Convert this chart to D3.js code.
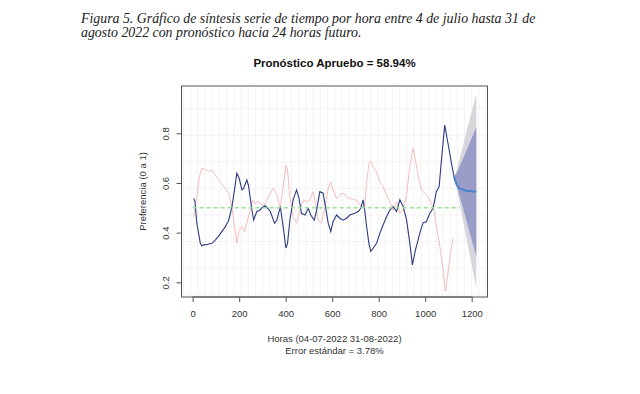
<!DOCTYPE html>
<html>
<head>
<meta charset="utf-8">
<script src="https://cdn.jsdelivr.net/npm/d3@7"></script>
<style>
  body { margin: 0; background: #fff; }
  svg { display: block; }
</style>
</head>
<body>
<div class="chart-div"></div>
<script>
// data
var blue_hours = [4,10,18,33,40,50,61,72,83,97,108,119,130,140,155,169,180,190,200,212,219,233,240,255,262,276,288,298,312,323,334,352,362,377,391,401,408,418,432,447,457,468,483,497,508,523,533,547,561,571,583,594,604,619,633,647,662,676,697,712,723,733,740,748,758,766,776,791,805,819,834,848,862,877,891,905,920,934,945,958,977,991,1005,1020,1034,1048,1060,1070,1084,1098,1113,1124];
var blue_vals = [.538,.525,.438,.357,.347,.352,.351,.355,.357,.37,.382,.396,.41,.423,.45,.505,.572,.639,.619,.572,.578,.612,.59,.491,.451,.485,.49,.50,.508,.498,.485,.438,.45,.505,.411,.338,.357,.45,.532,.572,.54,.478,.471,.498,.471,.45,.49,.565,.559,.505,.438,.404,.445,.471,.458,.45,.458,.471,.478,.485,.498,.532,.491,.424,.357,.324,.337,.357,.397,.431,.464,.491,.505,.485,.532,.505,.451,.357,.27,.33,.398,.44,.444,.478,.498,.565,.585,.693,.833,.76,.679,.625];

var pink_hours = [4,18,29,40,54,69,83,97,112,126,140,155,169,176,186,190,200,212,223,233,248,258,269,283,305,326,348,362,377,391,402,408,418,432,447,461,476,490,504,518,528,540,554,569,583,594,604,619,633,647,662,676,697,712,726,740,748,758,766,776,791,805,819,834,848,862,877,891,905,920,934,948,958,970,984,998,1012,1027,1038,1048,1063,1077,1087,1098,1113,1120];
var pink_vals = [.464,.545,.625,.659,.655,.645,.652,.632,.612,.592,.579,.559,.505,.45,.391,.357,.41,.424,.404,.438,.491,.532,.518,.525,.505,.545,.579,.552,.50,.599,.67,.652,.545,.464,.438,.49,.532,.525,.532,.565,.518,.45,.438,.505,.579,.605,.572,.538,.552,.559,.545,.538,.532,.525,.505,.512,.599,.679,.686,.666,.645,.605,.585,.552,.522,.491,.525,.478,.491,.552,.666,.74,.693,.625,.572,.558,.545,.518,.491,.431,.344,.25,.163,.237,.344,.377];

var fc_hours = [1124,1136,1148,1160,1172,1184,1196,1208,1220];
var fc_mean  = [.625,.592,.579,.574,.570,.568,.567,.566,.566];
var fc_hi80  = [.625,.64,.666,.693,.719,.745,.772,.798,.825];
var fc_lo80  = [.625,.589,.549,.508,.467,.426,.385,.344,.304];
var fc_hi95  = [.625,.653,.697,.741,.785,.829,.873,.917,.958];
var fc_lo95  = [.625,.577,.519,.461,.404,.346,.289,.231,.178];

var ref_level = 0.5,
    ref_span = [0, 1150];

var x_ticks = [0,200,400,600,800,1000,1200];
var y_ticks = [0.2,0.4,0.6,0.8];

var caption_lines = [
  "Figura 5. Gráfico de síntesis serie de tiempo por hora entre 4 de julio hasta 31 de",
  "agosto 2022 con pronóstico hacia 24 horas futuro."
];
var title_text = "Pronóstico Apruebo = 58.94%",
    xlab_lines = ["Horas (04-07-2022 31-08-2022)", "Error estándar = 3.78%"],
    ylab_text = "Preferencia (0 a 1)";

function draw_chart() {
  var W = 640, H = 394,
      left = 181.5, right = 487.5, top = 86, bottom = 297,
      tick_len = 5,
      sans = "'Liberation Sans', Arial, sans-serif";

  var svg = d3.select('.chart-div')
    .append('svg')
    .attr('width', W)
    .attr('height', H);

  var x = d3.scaleLinear().domain([-48, 1268]).range([left, right]);
  var y = d3.scaleLinear().domain([0.1408, 0.9905]).range([bottom, top]);

  // caption
  svg.append('g').selectAll('text')
    .data(caption_lines)
    .enter().append('text')
    .attr('x', 81)
    .attr('y', function(d, i) { return 23 + i*13.5; })
    .style('font-family', "'Liberation Serif', 'Times New Roman', serif")
    .style('font-style', 'italic')
    .style('font-size', '13.85px')
    .style('fill', '#222')
    .text(function(d) { return d; });

  // faint grid
  var grid = svg.append('g').attr('stroke', '#f0f0f3').attr('stroke-width', 0.8);
  grid.selectAll('.gx')
    .data(d3.range(-40, 1268, 31))
    .enter().append('line')
    .attr('x1', function(d) { return x(d); })
    .attr('x2', function(d) { return x(d); })
    .attr('y1', top).attr('y2', bottom);
  grid.selectAll('.gy')
    .data(d3.range(0.15, 0.99, 0.107))
    .enter().append('line')
    .attr('y1', function(d) { return y(d); })
    .attr('y2', function(d) { return y(d); })
    .attr('x1', left).attr('x2', right);

  // forecast bands
  var area = d3.area()
    .x(function(d) { return x(d[0]); })
    .y0(function(d) { return y(d[1]); })
    .y1(function(d) { return y(d[2]); });

  svg.append('path')
    .datum(fc_hours.map(function(h, i) { return [h, fc_lo95[i], fc_hi95[i]]; }))
    .attr('d', area)
    .style('fill', '#d6d6dc');

  svg.append('path')
    .datum(fc_hours.map(function(h, i) { return [h, fc_lo80[i], fc_hi80[i]]; }))
    .attr('d', area)
    .style('fill', '#9a9cc8');

  var line = d3.line()
    .x(function(d) { return x(d[0]); })
    .y(function(d) { return y(d[1]); });

  svg.append('path')
    .datum(pink_hours.map(function(h, i) { return [h, pink_vals[i]]; }))
    .attr('d', line)
    .style('fill', 'none')
    .style('stroke', '#f5b4b4')
    .style('stroke-width', 0.9);

  svg.append('path')
    .datum(blue_hours.map(function(h, i) { return [h, blue_vals[i]]; }))
    .attr('d', line)
    .style('fill', 'none')
    .style('stroke', '#2c3a80')
    .style('stroke-width', 1.1);

  svg.append('line')
    .attr('x1', x(ref_span[0])).attr('x2', x(ref_span[1]))
    .attr('y1', y(ref_level)).attr('y2', y(ref_level))
    .style('stroke', '#97e497')
    .style('stroke-width', 1.4)
    .style('stroke-dasharray', '4,3');

  svg.append('path')
    .datum(fc_hours.map(function(h, i) { return [h, fc_mean[i]]; }))
    .attr('d', line.curve(d3.curveMonotoneX))
    .style('fill', 'none')
    .style('stroke', '#4683c9')
    .style('stroke-width', 2);

  // box
  svg.append('rect')
    .attr('x', left).attr('y', top)
    .attr('width', right - left).attr('height', bottom - top)
    .style('fill', 'none')
    .style('stroke', '#555')
    .style('stroke-width', 1);

  // x axis, R style
  var xa = svg.append('g').attr('transform', 'translate(0,' + bottom + ')')
    .call(d3.axisBottom(x).tickValues(x_ticks).tickSize(tick_len).tickPadding(8).tickFormat(d3.format('d')));
  xa.select('.domain').attr('d', 'M' + x(0) + ',0H' + x(1200)).attr('stroke', '#555');
  xa.selectAll('.tick line').attr('stroke', '#555');
  xa.selectAll('text').style('font-family', sans).style('font-size', '9.5px').style('fill', '#333');

  var ya = svg.append('g').attr('transform', 'translate(' + left + ',0)')
    .call(d3.axisLeft(y).tickValues(y_ticks).tickSize(tick_len).tickFormat(d3.format('.1f')));
  ya.select('.domain').attr('d', 'M0,' + y(0.2) + 'V' + y(0.8)).attr('stroke', '#555');
  ya.selectAll('.tick line').attr('stroke', '#555');
  ya.selectAll('text')
    .attr('x', null).attr('dy', null)
    .attr('transform', 'translate(-13,0) rotate(-90)')
    .attr('text-anchor', 'middle')
    .style('font-family', sans).style('font-size', '9.5px').style('fill', '#333');

  // titles
  svg.append('text')
    .attr('x', (left + right)/2).attr('y', 67)
    .attr('text-anchor', 'middle')
    .style('font-family', sans).style('font-weight', 'bold').style('font-size', '11.5px')
    .style('fill', '#111')
    .text(title_text);

  svg.append('g').selectAll('text')
    .data(xlab_lines)
    .enter().append('text')
    .attr('x', (left + right)/2)
    .attr('y', function(d, i) { return 342 + i*12; })
    .attr('text-anchor', 'middle')
    .style('font-family', sans).style('font-size', '9.5px').style('fill', '#333')
    .text(function(d) { return d; });

  svg.append('text')
    .attr('transform', 'translate(146,' + ((top + bottom)/2) + ') rotate(-90)')
    .attr('text-anchor', 'middle')
    .style('font-family', sans).style('font-size', '9.5px').style('fill', '#333')
    .text(ylab_text);
}

draw_chart();
</script>
</body>
</html>
